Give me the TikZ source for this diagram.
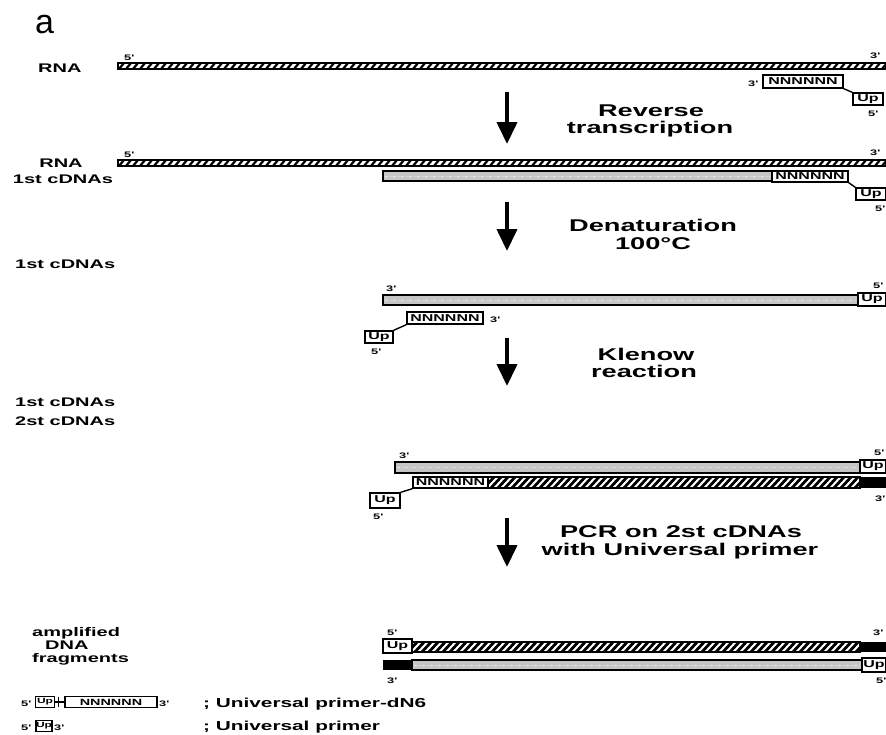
\documentclass[tikz,border=0pt]{standalone}
\usepackage{fontspec}
\setmainfont{Liberation Sans}
\newfontfamily\widesans[FakeStretch=1.6]{Liberation Sans}
\usetikzlibrary{arrows.meta,calc}
% hatched thick strand (////)
\newcommand{\hatchrect}[4]{%
  \begin{scope}
    \clip (#1,#2) rectangle (#3,#4);
    \fill[white] (#1,#2) rectangle (#3,#4);
    \pgfmathtruncatemacro\hn{(#3-#1)/7+3}
    \foreach \i in {0,...,\hn}{
      \pgfmathsetmacro\hx{#1-12+7*\i}
      \draw[line width=2.8pt] (\hx,#4+1) -- ++(12,-13);
    }
  \end{scope}
  \draw[line width=1.1pt] (#1,#2) rectangle (#3,#4);}
% thin RNA strand (rope-like)
\newcommand{\roperect}[4]{%
  \begin{scope}
    \clip (#1,#2) rectangle (#3,#4);
    \fill[white] (#1,#2) rectangle (#3,#4);
    \pgfmathtruncatemacro\hn{(#3-#1)/7+3}
    \foreach \i in {0,...,\hn}{
      \pgfmathsetmacro\hx{#1-6+7*\i}
      \draw[line width=2.2pt] (\hx,#4) -- ++(5,-6);
    }
  \end{scope}
  \draw[line width=1.1pt] (#1,#2) rectangle (#3,#4);}
% stippled grey strand
\newcommand{\greyrect}[4]{%
  \fill[gray!45] (#1,#2) rectangle (#3,#4);
  \draw[white!80!gray, line width=0.8pt, dash pattern=on 3pt off 2pt on 1pt off 2pt] (#1+2,#2/2+#4/2) -- (#3-2,#2/2+#4/2);
  \draw[line width=1.1pt] (#1,#2) rectangle (#3,#4);}
\begin{document}
\begin{tikzpicture}[x=1pt,y=-1pt,
  lab/.style={font=\widesans\bfseries\fontsize{12.5}{14}\selectfont, inner sep=0pt, anchor=base west},
  steplab/.style={font=\widesans\bfseries\fontsize{17}{18}\selectfont, inner sep=0pt, anchor=base},
  prime/.style={font=\widesans\bfseries\fontsize{8}{9}\selectfont, inner sep=0pt, anchor=base west},
  nbox/.style={draw, line width=1.4pt, fill=white, inner sep=0pt, font=\widesans\bfseries\fontsize{10}{11}\selectfont},
  ubox/.style={draw, line width=1.4pt, fill=white, inner sep=0pt, font=\widesans\bfseries\fontsize{10}{11}\selectfont},
  bigarrow/.style={line width=4pt, -{Triangle[width=20pt,length=22pt]}},
  link/.style={line width=1.4pt}]
\useasboundingbox (0,0) rectangle (886,734);
\fill[white] (0,0) rectangle (886,734);

\node[font=\fontsize{34}{36}\selectfont, anchor=base west, inner sep=0pt] (panel) at (35,33) {a};

% ---------- row 1 ----------
\node[lab] (l1) at (38,72) {RNA};
\node[prime] (r1p5) at (124,60) {5'};
\node[prime] (r1p3) at (870,58) {3'};
\roperect{118}{63}{886}{69}
\node[prime] (r1n3) at (748,86) {3'};
\node[nbox, minimum width=80pt, minimum height=13pt] (n1) at (803,81.5) {NNNNNN};
\node[ubox, minimum width=30pt, minimum height=12pt] (u1) at (868,99) {Up};
\draw[link] (n1.south east) -- (u1.north west);
\node[prime] (r1u5) at (868,116) {5'};

\coordinate (a1s) at (507,92); \coordinate (a1e) at (507,144);
\draw[bigarrow] (a1s) -- (a1e);
\node[steplab] (t1a) at (651,116) {Reverse};
\node[steplab] (t1b) at (650,133) {transcription};

% ---------- row 2 ----------
\node[lab, anchor=base] (l2a) at (61,167) {RNA};
\node[lab, anchor=base] (l2b) at (63,183) {1st cDNAs};
\node[prime] (r2p5) at (124,157) {5'};
\node[prime] (r2p3) at (870,155) {3'};
\roperect{118}{160}{886}{166}
\greyrect{383}{171}{772}{181}
\node[nbox, minimum width=76pt, minimum height=11pt] (n2) at (810,176.5) {NNNNNN};
\node[ubox, minimum width=30pt, minimum height=12pt] (u2) at (871,194) {Up};
\draw[link] (n2.south east) -- (u2.north west);
\node[prime] (r2u5) at (875,211) {5'};

\coordinate (a2s) at (507,202); \coordinate (a2e) at (507,251);
\draw[bigarrow] (a2s) -- (a2e);
\node[steplab] (t2a) at (653,231) {Denaturation};
\node[steplab] (t2b) at (653,249) {100°C};

% ---------- row 3 ----------
\node[lab] (l3) at (15,268) {1st cDNAs};
\node[prime] (r3p3) at (386,291) {3'};
\node[prime] (r3p5) at (873,288) {5'};
\greyrect{383}{295}{858}{305}
\node[ubox, minimum width=28pt, minimum height=13pt] (u3r) at (872,299.5) {Up};
\node[nbox, minimum width=76pt, minimum height=12pt] (n3) at (445,318) {NNNNNN};
\node[prime] (r3n3) at (490,322) {3'};
\node[ubox, minimum width=28pt, minimum height=12pt] (u3l) at (379,337) {Up};
\draw[link] (n3.south west) -- (u3l.north east);
\node[prime] (r3u5) at (371,354) {5'};

\coordinate (a3s) at (507,338); \coordinate (a3e) at (507,386);
\draw[bigarrow] (a3s) -- (a3e);
\node[steplab] (t3a) at (646,360) {Klenow};
\node[steplab] (t3b) at (644,377) {reaction};

% ---------- row 4 ----------
\node[lab] (l4a) at (15,406) {1st cDNAs};
\node[lab] (l4b) at (15,425) {2st cDNAs};
\node[prime] (r4p3) at (399,458) {3'};
\node[prime] (r4p5) at (874,455) {5'};
\greyrect{395}{462}{860}{473}
\node[ubox, minimum width=26pt, minimum height=13pt] (u4r) at (873,466.5) {Up};
\node[nbox, minimum width=75pt, minimum height=11pt] (n4) at (450.5,482.5) {NNNNNN};
\hatchrect{488}{477}{860}{488}
\fill (860,477) rectangle (886,488);
\node[prime] (r4b3) at (875,501) {3'};
\node[ubox, minimum width=30pt, minimum height=15pt] (u4l) at (385,500.5) {Up};
\draw[link] (n4.south west) -- (u4l.north east);
\node[prime] (r4u5) at (373,519) {5'};

\coordinate (a4s) at (507,518); \coordinate (a4e) at (507,567);
\draw[bigarrow] (a4s) -- (a4e);
\node[steplab] (t4a) at (681,537) {PCR on 2st cDNAs};
\node[steplab] (t4b) at (680,555) {with Universal primer};

% ---------- row 5 ----------
\node[lab] (l5a) at (32,636) {amplified};
\node[lab] (l5b) at (45,649) {DNA};
\node[lab] (l5c) at (32,662) {fragments};
\node[prime] (r5p5) at (387,635) {5'};
\node[prime] (r5p3) at (873,635) {3'};
\hatchrect{412}{642}{860}{652}
\fill (860,642) rectangle (886,652);
\node[ubox, minimum width=29pt, minimum height=14pt] (u5l) at (397.5,646) {Up};
\fill (383,660) rectangle (412,670);
\greyrect{412}{660}{862}{670}
\node[ubox, minimum width=24pt, minimum height=14pt] (u5r) at (874,665) {Up};
\node[prime] (r5b3) at (387,683) {3'};
\node[prime] (r5b5) at (876,683) {5'};

% ---------- legend ----------
\node[prime] (g1p5) at (21,706) {5'};
\node[ubox, minimum width=19pt, minimum height=11pt, font=\widesans\bfseries\fontsize{7.5}{8}\selectfont] (gu1) at (45,702) {Up};
\node[nbox, minimum width=92pt, minimum height=11pt, font=\widesans\bfseries\fontsize{9}{10}\selectfont] (gn1) at (111,702) {NNNNNN};
\draw[link] (gu1.east) -- (gn1.west);
\coordinate (gt) at ($(gu1.east)!0.35!(gn1.west)$);
\draw[link] ($(gt)+(0,-5)$) -- ($(gt)+(0,5)$);
\node[prime] (g1p3) at (159,706) {3'};
\node[lab, font=\widesans\bfseries\fontsize{13}{14}\selectfont] (g1t) at (203,707) {; Universal primer-dN6};

\node[prime] (g2p5) at (21,730) {5'};
\node[ubox, minimum width=16pt, minimum height=11pt, font=\widesans\bfseries\fontsize{7.5}{8}\selectfont] (gu2) at (44,726) {Up};
\node[prime] (g2p3) at (54,730) {3'};
\node[lab, font=\widesans\bfseries\fontsize{13}{14}\selectfont] (g2t) at (203,730) {; Universal primer};
\end{tikzpicture}
\end{document}
